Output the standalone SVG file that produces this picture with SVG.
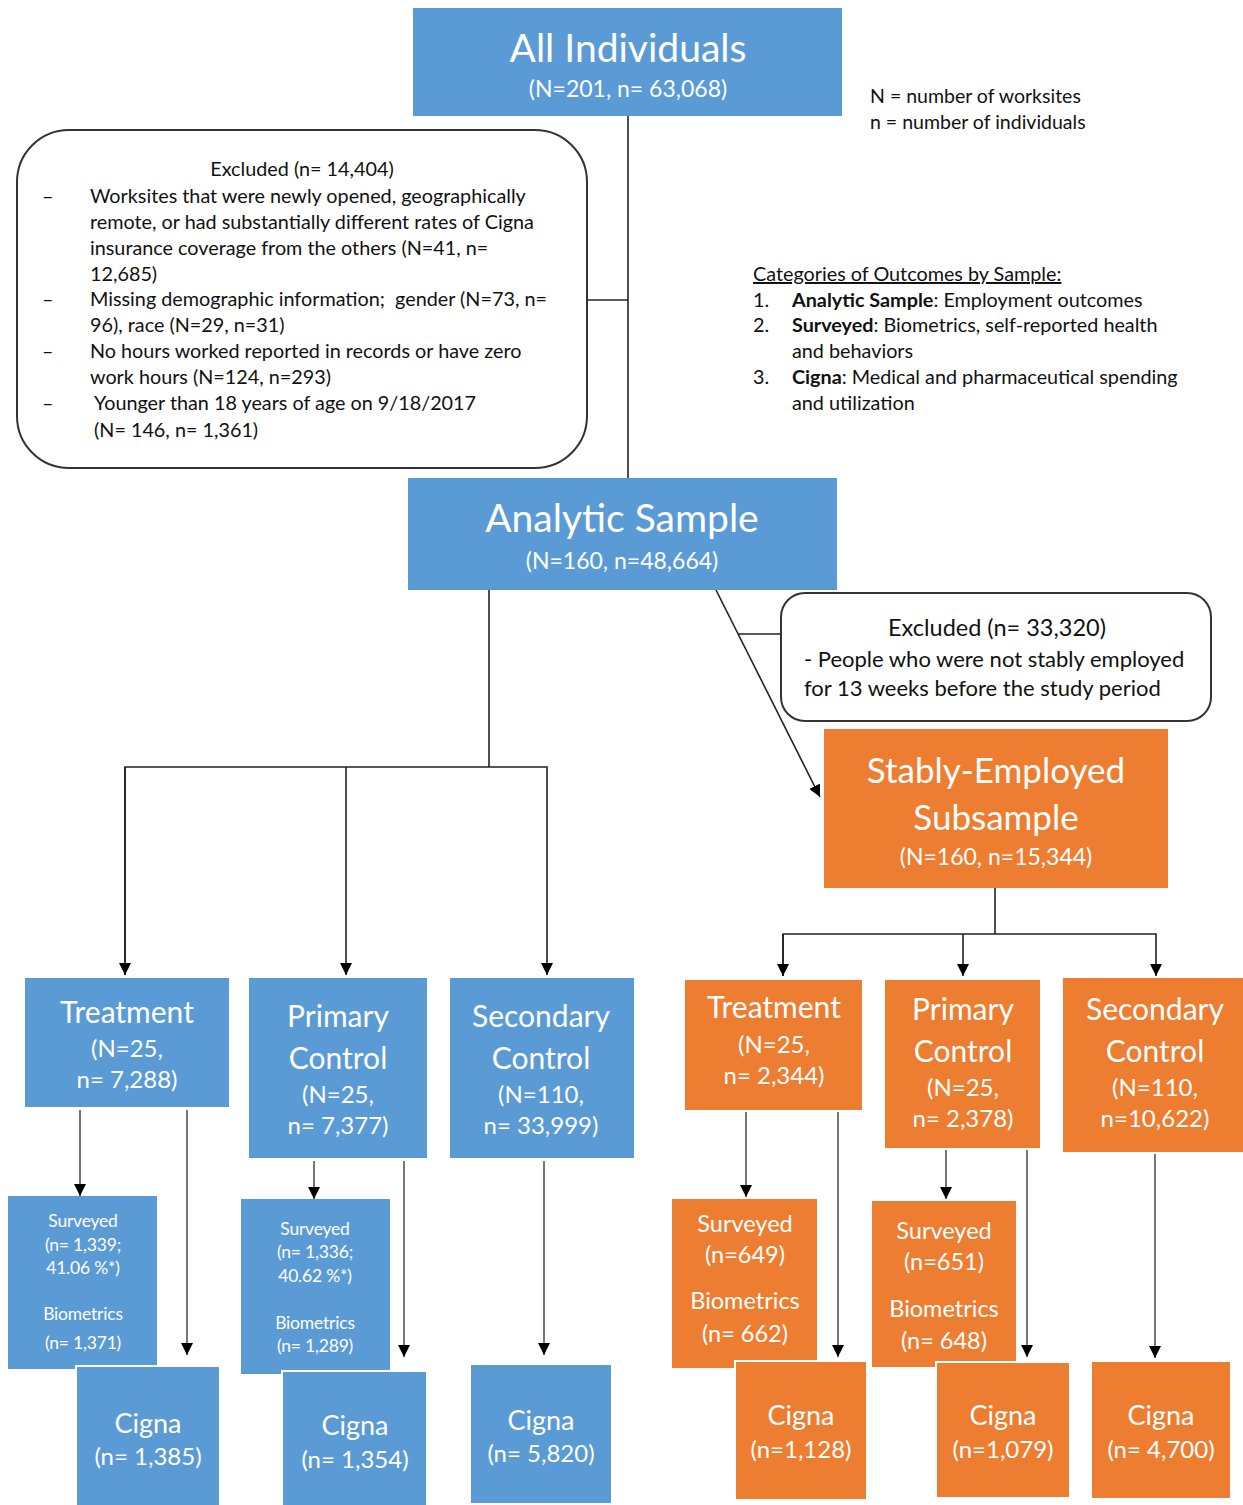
<svg xmlns="http://www.w3.org/2000/svg" width="1243" height="1505" viewBox="0 0 1243 1505">
<style>
text{font-family:Lato,"Open Sans","Liberation Sans",sans-serif}
.b{fill:#5B9BD5}
.o{fill:#ED7D31}
.w{fill:#fff;text-anchor:middle}
.k{fill:#111}
.rb{fill:#fff;stroke:#333;stroke-width:2}
.ln{fill:none;stroke:#222;stroke-width:1.6}
.lg{fill:none;stroke:#555;stroke-width:1.6}
.cut{stroke:#fff;stroke-width:2}
.t1{font-size:39px}
.t2{font-size:23px}
.t3{font-size:30px}
.t4{font-size:24px}
.s1{font-size:17.5px;letter-spacing:-0.2px}
.s2{font-size:23.5px}
.c1{font-size:27px}
.ex{font-size:19.8px}
.lg1{font-size:19.5px}
</style>
<defs>
<marker id="ah" viewBox="0 0 10 10" refX="10" refY="5" markerWidth="12" markerHeight="12" markerUnits="userSpaceOnUse" orient="auto">
<path d="M0,0 L10,5 L0,10 Z" fill="#000"/>
</marker>
</defs>

<g id="connectors">
<line class="ln" x1="628" y1="116" x2="628" y2="478"/>
<line class="ln" x1="587" y1="300" x2="628" y2="300"/>
<line class="ln" x1="489" y1="590" x2="489" y2="767"/>
<polyline class="ln" points="125,975 125,767 547,767 547,975" marker-end="url(#ah)"/>
<line class="ln" x1="125" y1="767" x2="125" y2="975" marker-end="url(#ah)"/>
<line class="ln" x1="346" y1="767" x2="346" y2="975" marker-end="url(#ah)"/>
<line class="ln" x1="716" y1="590" x2="820" y2="797" marker-end="url(#ah)"/>
<line class="ln" x1="738" y1="634" x2="781" y2="634"/>
<line class="ln" x1="995" y1="888" x2="995" y2="934"/>
<polyline class="ln" points="783,976 783,934 1156,934 1156,976" marker-end="url(#ah)"/>
<line class="ln" x1="783" y1="934" x2="783" y2="976" marker-end="url(#ah)"/>
<line class="ln" x1="963" y1="934" x2="963" y2="976" marker-end="url(#ah)"/>
<line class="lg" x1="80" y1="1110" x2="80" y2="1196" marker-end="url(#ah)"/>
<line class="lg" x1="187" y1="1110" x2="187" y2="1355" marker-end="url(#ah)"/>
<line class="lg" x1="314" y1="1161" x2="314" y2="1199" marker-end="url(#ah)"/>
<line class="lg" x1="404" y1="1161" x2="404" y2="1357" marker-end="url(#ah)"/>
<line class="lg" x1="544" y1="1161" x2="544" y2="1355" marker-end="url(#ah)"/>
<line class="lg" x1="746" y1="1112" x2="746" y2="1197" marker-end="url(#ah)"/>
<line class="lg" x1="838" y1="1112" x2="838" y2="1357" marker-end="url(#ah)"/>
<line class="lg" x1="946" y1="1150" x2="946" y2="1199" marker-end="url(#ah)"/>
<line class="lg" x1="1027" y1="1150" x2="1027" y2="1357" marker-end="url(#ah)"/>
<line class="lg" x1="1155" y1="1154" x2="1155" y2="1358" marker-end="url(#ah)"/>
</g>

<g id="all-individuals">
<rect class="b" x="413" y="8" width="429" height="108"/>
<text class="w t1" x="628" y="62">All Individuals</text>
<text class="w t2" x="628" y="97">(N=201, n= 63,068)</text>
</g>

<g id="legend">
<text class="k lg1" x="870" y="103">N = number of worksites</text>
<text class="k lg1" x="870" y="129">n = number of individuals</text>
</g>

<g id="excluded-1">
<rect class="rb" x="17" y="130" width="570" height="338" rx="52" ry="52"/>
<text class="k ex" x="302" y="176" text-anchor="middle">Excluded (n= 14,404)</text>
<text class="k ex" x="42" y="203">–</text>
<text class="k ex" x="90" y="203">Worksites that were newly opened, geographically</text>
<text class="k ex" x="90" y="229">remote, or had substantially different rates of Cigna</text>
<text class="k ex" x="90" y="255">insurance coverage from the others (N=41, n=</text>
<text class="k ex" x="90" y="281">12,685)</text>
<text class="k ex" x="42" y="306">–</text>
<text class="k ex" x="90" y="306" xml:space="preserve">Missing demographic information;  gender (N=73, n=</text>
<text class="k ex" x="90" y="332">96), race (N=29, n=31)</text>
<text class="k ex" x="42" y="358">–</text>
<text class="k ex" x="90" y="358">No hours worked reported in records or have zero</text>
<text class="k ex" x="90" y="384">work hours (N=124, n=293)</text>
<text class="k ex" x="42" y="410">–</text>
<text class="k ex" x="94" y="410">Younger than 18 years of age on 9/18/2017</text>
<text class="k ex" x="94" y="437">(N= 146, n= 1,361)</text>
</g>

<g id="categories">
<text class="k ex" x="753" y="281" text-decoration="underline">Categories of Outcomes by Sample:</text>
<text class="k ex" x="753" y="307">1.</text>
<text class="k ex" x="792" y="307"><tspan font-weight="bold">Analytic Sample</tspan>: Employment outcomes</text>
<text class="k ex" x="753" y="332">2.</text>
<text class="k ex" x="792" y="332"><tspan font-weight="bold">Surveyed</tspan>: Biometrics, self-reported health</text>
<text class="k ex" x="792" y="358">and behaviors</text>
<text class="k ex" x="753" y="384">3.</text>
<text class="k ex" x="792" y="384"><tspan font-weight="bold">Cigna</tspan>: Medical and pharmaceutical spending</text>
<text class="k ex" x="792" y="410">and utilization</text>
</g>

<g id="analytic-sample">
<rect class="b" x="408" y="478" width="429" height="112"/>
<text class="w t1" x="622" y="532">Analytic Sample</text>
<text class="w t2" x="622" y="569">(N=160, n=48,664)</text>
</g>

<g id="excluded-2">
<rect class="rb" x="781" y="593" width="430" height="128" rx="24" ry="24"/>
<text class="k" x="997" y="636" text-anchor="middle" font-size="23.5">Excluded (n= 33,320)</text>
<text class="k" x="804" y="667" font-size="22">- People who were not stably employed</text>
<text class="k" x="804" y="696" font-size="22">for 13 weeks before the study period</text>
</g>

<g id="stably-employed">
<rect class="o" x="824" y="729" width="344" height="159"/>
<text class="w" x="996" y="783" font-size="35">Stably-Employed</text>
<text class="w" x="996" y="830" font-size="35">Subsample</text>
<text class="w t2" x="996" y="865">(N=160, n=15,344)</text>
</g>

<g id="treatment-a">
<rect class="b" x="25" y="978" width="204" height="129"/>
<text class="w t3" x="127" y="1023">Treatment</text>
<text class="w t4" x="127" y="1057">(N=25,</text>
<text class="w t4" x="127" y="1088">n= 7,288)</text>
</g>
<g id="primary-a">
<rect class="b" x="249" y="978" width="178" height="180"/>
<text class="w t3" x="338" y="1027">Primary</text>
<text class="w t3" x="338" y="1069">Control</text>
<text class="w t4" x="338" y="1103">(N=25,</text>
<text class="w t4" x="338" y="1134">n= 7,377)</text>
</g>
<g id="secondary-a">
<rect class="b" x="450" y="978" width="184" height="180"/>
<text class="w t3" x="541" y="1027">Secondary</text>
<text class="w t3" x="541" y="1069">Control</text>
<text class="w t4" x="541" y="1103">(N=110,</text>
<text class="w t4" x="541" y="1134">n= 33,999)</text>
</g>

<g id="treatment-s">
<rect class="o" x="685" y="980" width="177" height="130"/>
<text class="w t3" x="774" y="1018">Treatment</text>
<text class="w t4" x="774" y="1053">(N=25,</text>
<text class="w t4" x="774" y="1084">n= 2,344)</text>
</g>
<g id="primary-s">
<rect class="o" x="885" y="980" width="155" height="168"/>
<text class="w t3" x="963" y="1020">Primary</text>
<text class="w t3" x="963" y="1062">Control</text>
<text class="w t4" x="963" y="1096">(N=25,</text>
<text class="w t4" x="963" y="1127">n= 2,378)</text>
</g>
<g id="secondary-s">
<rect class="o" x="1063" y="978" width="180" height="174"/>
<text class="w t3" x="1155" y="1020">Secondary</text>
<text class="w t3" x="1155" y="1062">Control</text>
<text class="w t4" x="1155" y="1096">(N=110,</text>
<text class="w t4" x="1155" y="1127">n=10,622)</text>
</g>

<g id="surveyed-treatment-a">
<rect class="b" x="8" y="1196" width="149" height="173"/>
<text class="w s1" x="83" y="1227">Surveyed</text>
<text class="w s1" x="83" y="1251">(n= 1,339;</text>
<text class="w s1" x="83" y="1274">41.06 %*)</text>
<text class="w s1" x="83" y="1320">Biometrics</text>
<text class="w s1" x="83" y="1349">(n= 1,371)</text>
</g>
<g id="cigna-treatment-a">
<rect class="b cut" x="76" y="1366" width="144" height="142"/>
<text class="w c1" x="148" y="1433">Cigna</text>
<text class="w t4" x="148" y="1465">(n= 1,385)</text>
</g>
<g id="surveyed-primary-a">
<rect class="b" x="241" y="1199" width="149" height="175"/>
<text class="w s1" x="315" y="1235">Surveyed</text>
<text class="w s1" x="315" y="1258">(n= 1,336;</text>
<text class="w s1" x="315" y="1282">40.62 %*)</text>
<text class="w s1" x="315" y="1329">Biometrics</text>
<text class="w s1" x="315" y="1352">(n= 1,289)</text>
</g>
<g id="cigna-primary-a">
<rect class="b cut" x="282" y="1371" width="145" height="137"/>
<text class="w c1" x="355" y="1435">Cigna</text>
<text class="w t4" x="355" y="1468">(n= 1,354)</text>
</g>
<g id="cigna-secondary-a">
<rect class="b" x="471" y="1365" width="140" height="138"/>
<text class="w c1" x="541" y="1430">Cigna</text>
<text class="w t4" x="541" y="1462">(n= 5,820)</text>
</g>

<g id="surveyed-treatment-s">
<rect class="o" x="672" y="1199" width="145" height="169"/>
<text class="w s2" x="745" y="1232">Surveyed</text>
<text class="w s2" x="745" y="1263">(n=649)</text>
<text class="w s2" x="745" y="1309">Biometrics</text>
<text class="w s2" x="745" y="1342">(n= 662)</text>
</g>
<g id="cigna-treatment-s">
<rect class="o cut" x="735" y="1361" width="132" height="139"/>
<text class="w c1" x="801" y="1425">Cigna</text>
<text class="w t4" x="801" y="1458">(n=1,128)</text>
</g>
<g id="surveyed-primary-s">
<rect class="o" x="872" y="1201" width="144" height="166"/>
<text class="w s2" x="944" y="1239">Surveyed</text>
<text class="w s2" x="944" y="1270">(n=651)</text>
<text class="w s2" x="944" y="1317">Biometrics</text>
<text class="w s2" x="944" y="1349">(n= 648)</text>
</g>
<g id="cigna-primary-s">
<rect class="o cut" x="936" y="1362" width="134" height="136"/>
<text class="w c1" x="1003" y="1425">Cigna</text>
<text class="w t4" x="1003" y="1458">(n=1,079)</text>
</g>
<g id="cigna-secondary-s">
<rect class="o" x="1092" y="1362" width="138" height="136"/>
<text class="w c1" x="1161" y="1425">Cigna</text>
<text class="w t4" x="1161" y="1458">(n= 4,700)</text>
</g>
</svg>
